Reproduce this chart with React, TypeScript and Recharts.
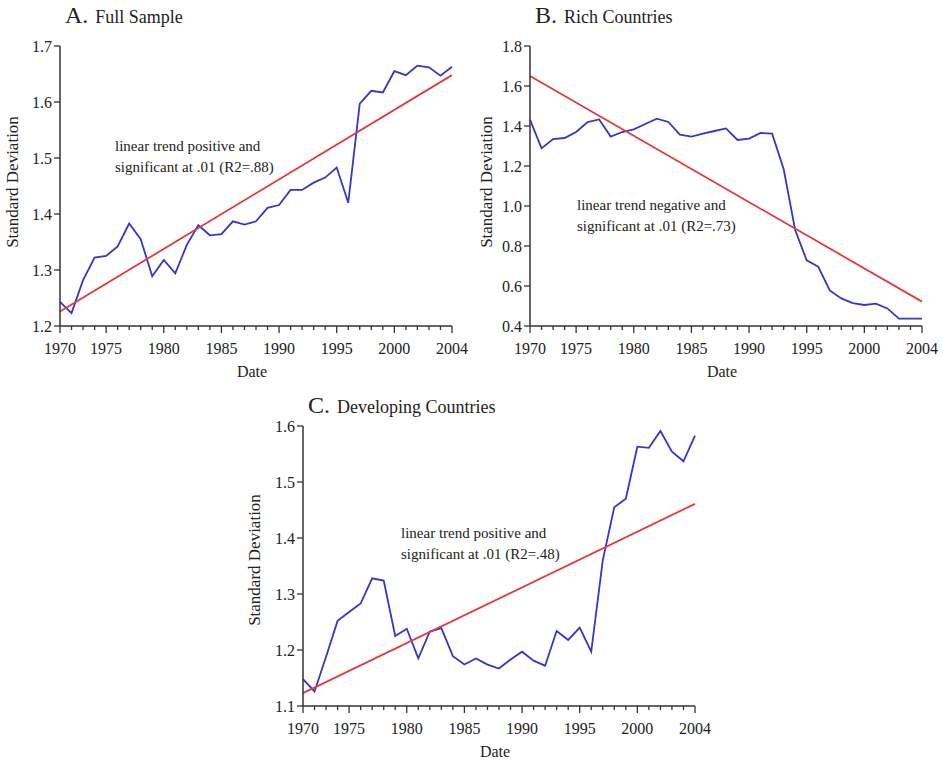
import React from "react";
import { LineChart, Line, XAxis, YAxis, ReferenceLine } from "recharts";

// years on the x axis; the source chart puts its labels at these indices
const years = [
  1970, 1971, 1972, 1973, 1974, 1975, 1976, 1977, 1978, 1979,
  1980, 1981, 1982, 1983, 1984, 1985, 1986, 1987, 1988, 1989,
  1990, 1991, 1992, 1993, 1994, 1995, 1996, 1997, 1998, 1999,
  2000, 2001, 2002, 2003, 2004,
];
const tickPositions = [0, 4, 9, 14, 19, 24, 29, 34];
const tickLabels = ["1970", "1975", "1980", "1985", "1990", "1995", "2000", "2004"];

// standard deviation, one value per year
const fullSample = [
  1.243, 1.223, 1.282, 1.322, 1.325, 1.342, 1.383, 1.355, 1.289, 1.318,
  1.294, 1.345, 1.380, 1.362, 1.364, 1.387, 1.381, 1.387, 1.411, 1.416,
  1.443, 1.443, 1.456, 1.465, 1.483, 1.420, 1.597, 1.620, 1.617, 1.655,
  1.648, 1.665, 1.662, 1.647, 1.663,
];
const richCountries = [
  1.432, 1.288, 1.335, 1.340, 1.370, 1.420, 1.433, 1.347, 1.370, 1.383,
  1.410, 1.437, 1.420, 1.357, 1.347, 1.362, 1.375, 1.388, 1.330, 1.337,
  1.365, 1.362, 1.185, 0.880, 0.728, 0.697, 0.578, 0.538, 0.514, 0.505,
  0.512, 0.488, 0.437, 0.437, 0.437,
];
const developingCountries = [
  1.148, 1.126, 1.188, 1.252, 1.268, 1.283, 1.328, 1.324, 1.225, 1.238,
  1.185, 1.233, 1.239, 1.189, 1.174, 1.185, 1.174, 1.167, 1.183, 1.197,
  1.181, 1.172, 1.234, 1.218, 1.240, 1.197, 1.360, 1.455, 1.470, 1.563,
  1.561, 1.591, 1.554, 1.537, 1.583,
];

// linear trend: value at first and last year
const fullTrend = [1.226, 1.648];
const richTrend = [1.65, 0.522];
const devTrend = [1.123, 1.461];

const fullTicks = [1.2, 1.3, 1.4, 1.5, 1.6, 1.7];
const richTicks = [0.4, 0.6, 0.8, 1.0, 1.2, 1.4, 1.6, 1.8];
const devTicks = [1.1, 1.2, 1.3, 1.4, 1.5, 1.6];

const BLUE = "#3636c8";
const RED = "#e23b3b";
const AXIS = "#333";
const TEXT = "#222";
const FONT = "'Liberation Serif', 'DejaVu Serif', serif";

const W = 470;
const H = 385;

function YearTick(props: any) {
  const { x, y, payload } = props;
  const k = tickPositions.indexOf(payload.value);
  const major = k >= 0;
  return (
    <g>
      <line x1={x} x2={x} y1={y} y2={y + (major ? 7 : 4)} stroke={AXIS} strokeWidth={1.3} />
      {major && (
        <text x={x} y={y + 28} textAnchor="middle" fontSize={16} fill={TEXT} fontFamily={FONT}>
          {tickLabels[k]}
        </text>
      )}
    </g>
  );
}

type PanelProps = {
  left: number;
  top: number;
  letter: string;
  title: string;
  titleBase: number;
  values: number[];
  trend: number[];
  yTicks: number[];
  note: string[];
  noteX: number;
  noteY: number;
  yLabelX: number;
  yLabelY: number;
};

function Panel(p: PanelProps) {
  const rows = years.map((year, i) => ({ i, year, value: p.values[i] }));
  const last = years.length - 1;
  return (
    <div style={{ position: "absolute", left: p.left, top: p.top, width: W, height: H }}>
      <LineChart width={W} height={H} data={rows} margin={{ top: 46, right: 18, left: 0, bottom: 0 }}>
        <XAxis
          dataKey="i"
          type="number"
          domain={[0, last]}
          ticks={rows.map((r) => r.i)}
          interval={0}
          height={59}
          tickSize={0}
          tickMargin={0}
          tickLine={false}
          axisLine={{ stroke: AXIS, strokeWidth: 1.5 }}
          tick={<YearTick />}
        />
        <YAxis
          type="number"
          domain={[p.yTicks[0], p.yTicks[p.yTicks.length - 1]]}
          ticks={p.yTicks}
          interval={0}
          width={60}
          tickSize={6}
          tickMargin={2}
          tickFormatter={(v: number) => v.toFixed(1)}
          tickLine={{ stroke: AXIS, strokeWidth: 1.3 }}
          axisLine={{ stroke: AXIS, strokeWidth: 1.5 }}
          tick={{ fill: TEXT, fontSize: 16, fontFamily: FONT }}
        />
        <Line
          type="linear"
          dataKey="value"
          stroke={BLUE}
          strokeWidth={1.8}
          dot={false}
          isAnimationActive={false}
        />
        <ReferenceLine
          segment={[
            { x: 0, y: p.trend[0] },
            { x: last, y: p.trend[1] },
          ]}
          stroke={RED}
          strokeWidth={1.8}
          ifOverflow="visible"
        />
      </LineChart>
      <div
        style={{
          position: "absolute",
          left: 65,
          top: p.titleBase - 20,
          lineHeight: "24px",
          whiteSpace: "nowrap",
          color: TEXT,
        }}
      >
        <span style={{ fontSize: 24 }}>{p.letter}</span>
        <span style={{ fontSize: 18, marginLeft: 7 }}>{p.title}</span>
      </div>
      <div
        style={{
          position: "absolute",
          left: p.yLabelX,
          top: p.yLabelY,
          transform: "translate(-50%, -50%) rotate(-90deg)",
          fontSize: 17,
          whiteSpace: "nowrap",
          color: TEXT,
        }}
      >
        Standard Deviation
      </div>
      <div
        style={{
          position: "absolute",
          left: 252,
          top: 372,
          transform: "translate(-50%, -50%)",
          fontSize: 16,
          color: TEXT,
        }}
      >
        Date
      </div>
      <div
        style={{
          position: "absolute",
          left: p.noteX,
          top: p.noteY - 10,
          fontSize: 15,
          lineHeight: "21px",
          whiteSpace: "nowrap",
          color: TEXT,
        }}
      >
        {p.note.map((t) => (
          <div key={t}>{t}</div>
        ))}
      </div>
    </div>
  );
}

export default function App() {
  return (
    <div
      style={{
        position: "absolute",
        left: 0,
        top: 0,
        width: 943,
        height: 765,
        background: "#fff",
        fontFamily: FONT,
      }}
    >
      <Panel
        left={0}
        top={0}
        letter="A."
        title="Full Sample"
        titleBase={23}
        values={fullSample}
        trend={fullTrend}
        yTicks={fullTicks}
        note={["linear trend positive and", "significant at .01 (R2=.88)"]}
        noteX={115}
        noteY={146}
        yLabelX={13}
        yLabelY={182}
      />
      <Panel
        left={470}
        top={0}
        letter="B."
        title="Rich Countries"
        titleBase={23}
        values={richCountries}
        trend={richTrend}
        yTicks={richTicks}
        note={["linear trend negative and", "significant at .01 (R2=.73)"]}
        noteX={107}
        noteY={205}
        yLabelX={17}
        yLabelY={182}
      />
      <Panel
        left={243}
        top={380}
        letter="C."
        title="Developing Countries"
        titleBase={33}
        values={developingCountries}
        trend={devTrend}
        yTicks={devTicks}
        note={["linear trend positive and", "significant at .01 (R2=.48)"]}
        noteX={158}
        noteY={153}
        yLabelX={12}
        yLabelY={180}
      />
    </div>
  );
}
